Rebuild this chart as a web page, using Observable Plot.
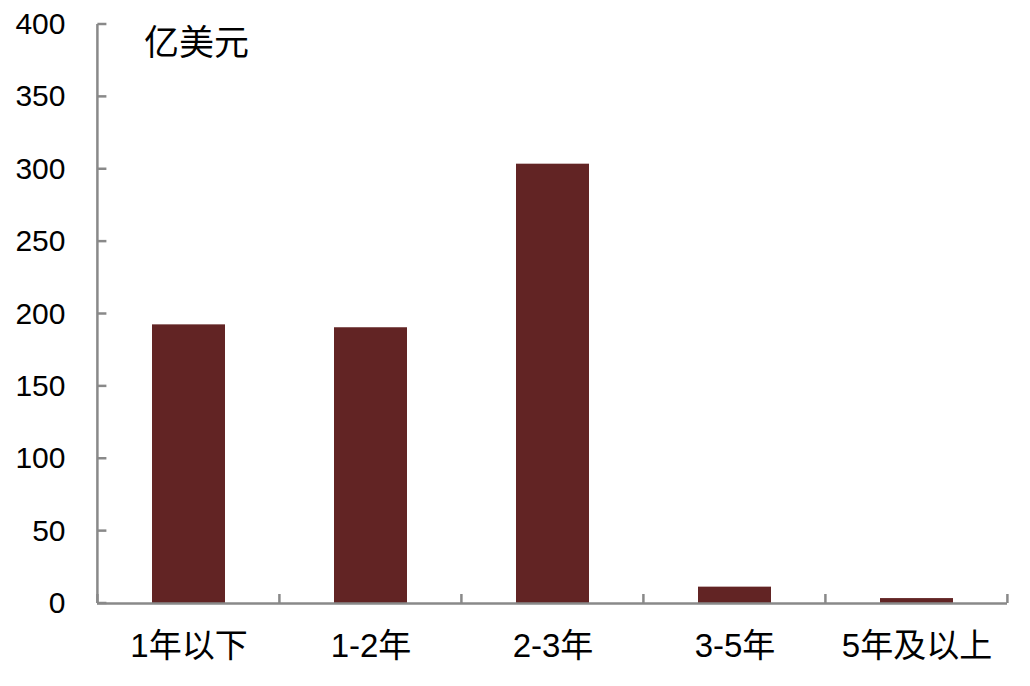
<!DOCTYPE html>
<html>
<head>
<meta charset="utf-8">
<script src="https://cdn.jsdelivr.net/npm/d3@7"></script>
<script src="https://cdn.jsdelivr.net/npm/@observablehq/plot@0.6"></script>
<style>
  html, body { margin: 0; padding: 0; background: #fff; }
  #chart { position: relative; width: 1030px; height: 686px; }
  #unit { position: absolute; left: 144px; top: 14px; line-height: 1; font: 35px "Liberation Sans", "Noto Sans CJK SC", sans-serif; color: #000; }
</style>
</head>
<body>
<div id="chart"><div id="unit">亿美元</div></div>
<script>
const categories = ["1年以下", "1-2年", "2-3年", "3-5年", "5年及以上"];
const values = [192.5, 190.5, 303.5, 11.3, 3.4];
const yTicks = [0, 50, 100, 150, 200, 250, 300, 350, 400];

const data = categories.map((c, i) => ({category: c, value: values[i]}));
const axisColor = "#898989";
const font = '"Liberation Sans", "Noto Sans CJK SC", sans-serif';

const plot = Plot.plot({
  width: 1030,
  height: 686,
  marginLeft: 97,
  marginRight: 23,
  marginTop: 24,
  marginBottom: 83,
  style: {fontFamily: font, fontSize: "30px", color: "#000", background: "#fff"},
  x: {domain: categories, paddingInner: 0.6, paddingOuter: 0.3, label: null},
  y: {domain: [0, 400], label: null},
  marks: [
    Plot.barY(data, {x: "category", y: "value", fill: "#622424"}),
    Plot.ruleY([0], {stroke: axisColor, strokeWidth: 2.5}),
    Plot.axisY(yTicks, {tickSize: 0, tickPadding: 32, label: null, fontSize: 30}),
    Plot.axisX({tickSize: 0, tickPadding: 30, label: null, fontSize: 33})
  ]
});

// decorations: y-axis line, inward y ticks, x category boundary ticks (from scales)
const svg = d3.select(plot);
const xs = plot.scale("x");
const ys = plot.scale("y");
const x0 = xs.apply(categories[0]) - xs.step * xs.paddingOuter;
const g = svg.append("g").attr("stroke", axisColor).attr("stroke-width", 2.5);
g.append("line").attr("x1", x0).attr("x2", x0).attr("y1", ys.apply(400)).attr("y2", ys.apply(0));
yTicks.forEach(t => {
  g.append("line").attr("x1", x0).attr("x2", x0 + 9).attr("y1", ys.apply(t)).attr("y2", ys.apply(t));
});
for (let i = 0; i <= categories.length; i++) {
  const bx = x0 + i * xs.step;
  g.append("line").attr("x1", bx).attr("x2", bx).attr("y1", ys.apply(0)).attr("y2", ys.apply(0) - 9);
}

document.getElementById("chart").prepend(plot);
</script>
</body>
</html>
